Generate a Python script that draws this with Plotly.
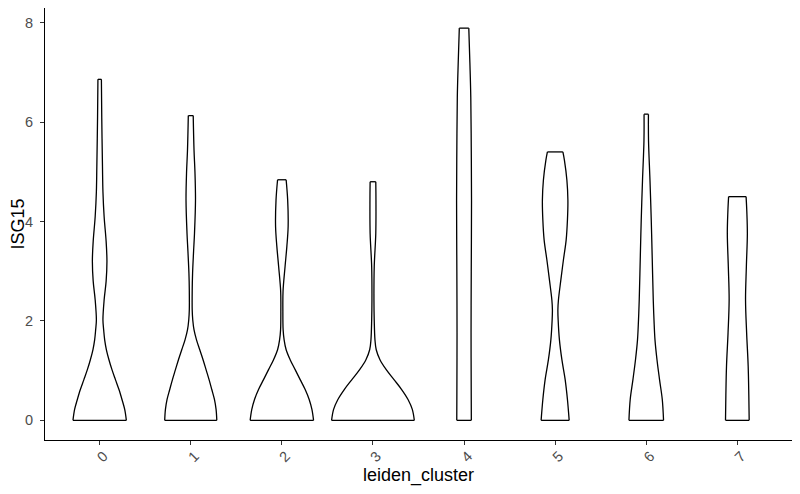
import plotly.graph_objects as go

# -------------------------
# Datos: perfil de cada violin
# (nivel de ISG15 y semi-ancho en unidades del eje x)
# -------------------------
clusters = ["0", "1", "2", "3", "4", "5", "6", "7"]

y_c0 = [0, 0.22, 0.42, 0.62, 0.82, 1.02, 1.22, 1.42, 1.62, 1.82, 2.02, 2.42, 2.8, 3.2, 3.6, 4.1, 4.6, 5.1, 6.1, 6.86]
w_c0 = [0.293, 0.275, 0.245, 0.212, 0.173, 0.135, 0.102, 0.074, 0.055, 0.044, 0.036, 0.049, 0.071, 0.080, 0.071, 0.049, 0.036, 0.031, 0.023, 0.019]

y_c1 = [0, 0.22, 0.42, 0.62, 0.82, 1.02, 1.22, 1.42, 1.62, 1.82, 2.02, 2.22, 2.62, 2.96, 3.4, 3.76, 4.43, 5.0, 5.43, 6.13]
w_c1 = [0.286, 0.278, 0.260, 0.231, 0.201, 0.168, 0.135, 0.099, 0.063, 0.036, 0.022, 0.016, 0.016, 0.020, 0.031, 0.041, 0.052, 0.046, 0.036, 0.027]

y_c2 = [0, 0.22, 0.42, 0.62, 0.82, 1.02, 1.22, 1.42, 1.62, 1.82, 2.22, 2.6, 3.09, 3.5, 3.9, 4.43, 4.84]
w_c2 = [0.348, 0.330, 0.300, 0.256, 0.201, 0.146, 0.091, 0.047, 0.025, 0.014, 0.011, 0.013, 0.035, 0.055, 0.069, 0.064, 0.047]

y_c3 = [0, 0.22, 0.42, 0.62, 0.82, 1.02, 1.22, 1.42, 1.62, 2.02, 2.42, 3.09, 3.76, 4.43, 4.80]
w_c3 = [0.454, 0.432, 0.385, 0.315, 0.231, 0.146, 0.077, 0.036, 0.022, 0.014, 0.011, 0.014, 0.031, 0.033, 0.031]

y_c4 = [0, 0.42, 1.76, 3.0, 4.43, 5.5, 6.5, 7.2, 7.89]
w_c4 = [0.080, 0.079, 0.077, 0.079, 0.082, 0.079, 0.074, 0.064, 0.052]

y_c5 = [0, 0.42, 0.82, 1.22, 1.62, 2.02, 2.22, 2.42, 2.83, 3.23, 3.63, 4.03, 4.43, 4.83, 5.23, 5.40]
w_c5 = [0.154, 0.135, 0.110, 0.074, 0.047, 0.033, 0.030, 0.036, 0.063, 0.091, 0.121, 0.135, 0.140, 0.129, 0.102, 0.085]

y_c6 = [0, 0.42, 0.82, 1.22, 1.62, 2.02, 2.42, 3.23, 4.03, 4.83, 5.63, 6.16]
w_c6 = [0.190, 0.176, 0.146, 0.118, 0.096, 0.085, 0.077, 0.066, 0.055, 0.041, 0.025, 0.024]

y_c7 = [0, 0.5, 1.09, 1.76, 2.42, 3.09, 3.76, 4.2, 4.5]
w_c7 = [0.130, 0.126, 0.119, 0.102, 0.090, 0.099, 0.110, 0.104, 0.096]

perfiles = [
    (y_c0, w_c0), (y_c1, w_c1), (y_c2, w_c2), (y_c3, w_c3),
    (y_c4, w_c4), (y_c5, w_c5), (y_c6, w_c6), (y_c7, w_c7),
]

linea = dict(color="black", width=1.3)

fig = go.Figure()

for i, (ys, ws) in enumerate(perfiles):
    # lados del violin (curvas suaves)
    for signo in (1, -1):
        fig.add_trace(go.Scatter(
            x=[i + signo * w for w in ws], y=ys,
            mode="lines", line=dict(shape="spline", smoothing=1.0, **linea),
            hoverinfo="skip", showlegend=False,
        ))
    # base y tope recortados
    fig.add_trace(go.Scatter(
        x=[i - ws[0], i + ws[0], None, i - ws[-1], i + ws[-1]],
        y=[ys[0], ys[0], None, ys[-1], ys[-1]],
        mode="lines", line=linea, hoverinfo="skip", showlegend=False,
    ))

eje = dict(
    showline=True, linecolor="black", linewidth=1.1,
    ticks="outside", ticklen=4, tickcolor="#333333", tickwidth=1,
    showgrid=False, zeroline=False, automargin=False,
    tickfont=dict(size=14.5, color="#4D4D4D"),
)

# el body de la pagina deja 8px de margen: la figura se ajusta a eso
fig.update_layout(
    width=784, height=478,
    plot_bgcolor="white", paper_bgcolor="white",
    font=dict(family="Liberation Sans, Arial, sans-serif", color="black"),
    margin=dict(l=37, r=0, t=0, b=46),
    xaxis=dict(
        range=[-0.6, 7.6], tickmode="array",
        tickvals=list(range(len(clusters))), ticktext=clusters, tickangle=-45,
        ticklabelstandoff=-3, ticklabelshift=4,
        title=dict(text="leiden_cluster", font=dict(size=18), standoff=6),
        **eje,
    ),
    yaxis=dict(
        range=[-0.395, 8.295], tickvals=[0, 2, 4, 6, 8],
        ticklabelstandoff=4,
        title=dict(text="ISG15", font=dict(size=18), standoff=1),
        **eje,
    ),
)

fig.write_html("out.html")
